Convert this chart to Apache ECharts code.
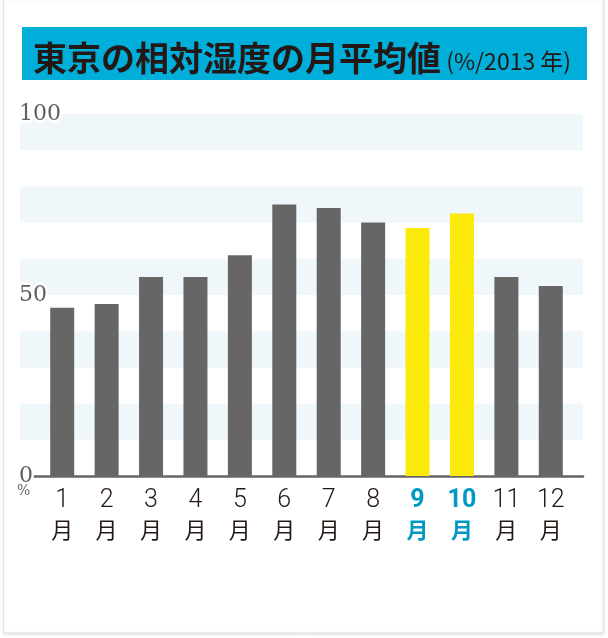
<!DOCTYPE html>
<html lang="ja">
<head>
<meta charset="utf-8">
<title>東京の相対湿度の月平均値</title>
<style>
  html, body { margin: 0; padding: 0; background: #fff; }
  #main { width: 608px; height: 638px; }
</style>
</head>
<body>
<div id="main"></div>
<script src="https://cdn.jsdelivr.net/npm/echarts@6/dist/echarts.min.js"></script>
<script>
// データ
var months = ['1', '2', '3', '4', '5', '6', '7', '8', '9', '10', '11', '12'];
var humidity = [46.5, 47.5, 55, 55, 61, 75, 74, 70, 68.5, 72.5, 55, 52.5];
var highlight = [false, false, false, false, false, false, false, false, true, true, false, false];
var yTicks = [0, 50, 100];

var GRAY = '#666666', YELLOW = '#fbea0c', BLUE = '#0099c4', INK = '#231815';

var chart = echarts.init(document.getElementById('main'));

var option = {
    backgroundColor: '#fff',
    animation: false,
    title: {
        text: '{a|東京の相対湿度の月平均値}{b| (%/2013 年)}',
        left: 28,
        top: 30,
        textStyle: {
            rich: {
                a: { fontFamily: 'Noto Sans CJK JP', fontWeight: 'bold', fontSize: 34, color: INK, lineHeight: 46 },
                b: { fontFamily: 'Noto Sans CJK JP', fontWeight: 'normal', fontSize: 23, color: INK, lineHeight: 46, padding: [6, 0, 0, 0] }
            }
        }
    },
    graphic: [
        {
            type: 'rect', z: -10, silent: true,
            shape: { x: 3.5, y: -2, width: 600, height: 635 },
            style: { fill: '#fff', stroke: '#e4e4e4', lineWidth: 1, shadowBlur: 3, shadowColor: 'rgba(0,0,0,0.12)', shadowOffsetY: 1 }
        },
        {
            type: 'rect', z: -5, silent: true,
            shape: { x: 22, y: 27, width: 565, height: 53 },
            style: { fill: '#00afd9' }
        },
        {
            type: 'text', z: 10, left: 17, top: 484,
            style: { text: '%', fontFamily: 'DejaVu Serif', fontSize: 14, fill: GRAY }
        }
    ],
    grid: [
        // 背景の帯
        { left: 20, right: 25, top: 114, bottom: 162 },
        // 軸線
        { left: 33, right: 25, top: 114, bottom: 162 },
        // 棒
        { left: 40, right: 35, top: 114, bottom: 162 }
    ],
    xAxis: [
        { gridIndex: 0, type: 'value', min: 0, max: 1, show: false },
        {
            gridIndex: 1, type: 'value', min: 0, max: 1, z: 0,
            axisLine: { show: true, lineStyle: { color: GRAY, width: 2.5 } },
            axisTick: { show: false }, axisLabel: { show: false }, splitLine: { show: false }
        },
        {
            gridIndex: 2, type: 'category', data: months,
            axisLine: { show: false }, axisTick: { show: false },
            axisLabel: {
                margin: 11,
                interval: 0,
                formatter: function (v, i) {
                    return highlight[i] ? '{nb|' + v + '}\n{mb|月}' : '{n|' + v + '}\n{m|月}';
                },
                rich: {
                    n: { fontFamily: 'Roboto', fontWeight: 300, fontSize: 25, color: INK, lineHeight: 28 },
                    m: { fontFamily: 'Noto Sans CJK JP', fontSize: 22, color: INK, lineHeight: 29 },
                    nb: { fontFamily: 'Roboto', fontWeight: 'bold', fontSize: 25, color: BLUE, lineHeight: 28 },
                    mb: { fontFamily: 'Noto Sans CJK JP', fontWeight: 'bold', fontSize: 22, color: BLUE, lineHeight: 29 }
                }
            }
        }
    ],
    yAxis: [
        {
            gridIndex: 0, type: 'value', min: 0, max: 100, interval: 10, z: 1,
            axisLine: { show: false }, axisTick: { show: false },
            splitLine: { show: false },
            splitArea: { show: true, areaStyle: { color: ['rgba(255,255,255,0)', '#eff7fb'] } },
            axisLabel: {
                inside: true, margin: -1, showMinLabel: true, showMaxLabel: true,
                formatter: function (v) { return yTicks.indexOf(v) >= 0 ? String(v) : ''; },
                fontFamily: 'DejaVu Serif', fontSize: 22, color: '#606060',
                textBorderColor: '#fff', textBorderWidth: 5
            }
        },
        { gridIndex: 1, type: 'value', min: 0, max: 100, show: false },
        { gridIndex: 2, type: 'value', min: 0, max: 100, show: false }
    ],
    series: [
        {
            type: 'bar',
            xAxisIndex: 2, yAxisIndex: 2,
            barWidth: 24,
            z: 3,
            data: humidity.map(function (v, i) {
                return { value: v, itemStyle: { color: highlight[i] ? YELLOW : GRAY } };
            })
        }
    ]
};

chart.setOption(option);
</script>
</body>
</html>
